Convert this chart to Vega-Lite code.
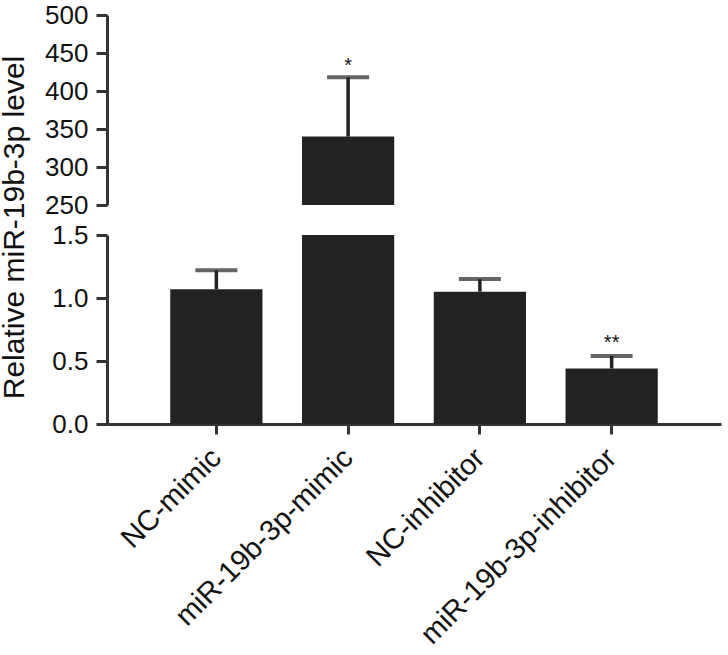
{
  "$schema": "https://vega.github.io/schema/vega-lite/v6.json",
  "background": "white",
  "padding": {"left": -2, "top": 2, "right": 5, "bottom": 0},
  "spacing": 30,
  "bounds": "flush",
  "config": {
    "view": {"stroke": null},
    "font": "Liberation Sans",
    "axis": {
      "domainColor": "#333333",
      "domainWidth": 3,
      "tickColor": "#333333",
      "tickWidth": 3,
      "tickSize": 11,
      "labelFont": "Liberation Sans",
      "labelFontSize": 26,
      "labelColor": "#111111",
      "labelPadding": 8,
      "labelOverlap": false,
      "labelLimit": 0,
      "grid": false,
      "titleFont": "Liberation Sans",
      "titleFontSize": 30,
      "titleFontWeight": "normal",
      "titleColor": "#111111"
    }
  },
  "datasets": {
    "bars": [
      {"group": "NC-mimic", "mean": 1.07, "upper": 1.22, "sig": ""},
      {"group": "miR-19b-3p-mimic", "mean": 340, "upper": 418, "sig": "*"},
      {"group": "NC-inhibitor", "mean": 1.05, "upper": 1.15, "sig": ""},
      {"group": "miR-19b-3p-inhibitor", "mean": 0.44, "upper": 0.54, "sig": "**"}
    ]
  },
  "vconcat": [
    {
      "width": 614,
      "height": 190,
      "data": {"name": "bars"},
      "encoding": {
        "x": {"field": "group", "type": "nominal", "sort": null, "axis": null,
              "scale": {"paddingInner": 0.3, "paddingOuter": 0.48}}
      },
      "layer": [
        {
          "mark": {"type": "bar", "clip": true, "color": "#222222"},
          "encoding": {
            "y": {"field": "mean", "type": "quantitative",
                  "scale": {"domain": [250, 500], "nice": false, "zero": false},
                  "axis": {"values": [250, 300, 350, 400, 450, 500], "title": null, "labelOverlap": false, "labelFlush": false}},
            "y2": {"datum": 0}
          }
        },
        {
          "mark": {"type": "rule", "clip": true, "strokeWidth": 3.5, "color": "#222222"},
          "encoding": {
            "y": {"field": "mean", "type": "quantitative",
                  "axis": {"values": [250, 300, 350, 400, 450, 500], "title": null, "labelOverlap": false, "labelFlush": false}},
            "y2": {"field": "upper"}
          }
        },
        {
          "mark": {"type": "tick", "clip": true, "thickness": 4, "size": 42, "color": "#222222"},
          "encoding": {"y": {"field": "upper", "type": "quantitative",
                  "axis": {"values": [250, 300, 350, 400, 450, 500], "title": null, "labelOverlap": false, "labelFlush": false}}}
        },
        {
          "transform": [{"filter": "datum.upper > 250"}],
          "mark": {"type": "text", "fontSize": 20, "baseline": "alphabetic", "dy": -5, "color": "#111111"},
          "encoding": {
            "y": {"field": "upper", "type": "quantitative",
                  "axis": {"values": [250, 300, 350, 400, 450, 500], "title": null, "labelOverlap": false, "labelFlush": false}},
            "text": {"field": "sig"}
          }
        }
      ]
    },
    {
      "width": 614,
      "height": 189,
      "data": {"name": "bars"},
      "encoding": {
        "x": {"field": "group", "type": "nominal", "sort": null,
              "scale": {"paddingInner": 0.3, "paddingOuter": 0.48},
              "axis": {"title": null, "labelAngle": -45, "labelAlign": "right", "labelBaseline": "middle", "labelPadding": 19, "labelFontSize": 29, "tickSize": 10}}
      },
      "layer": [
        {
          "mark": {"type": "bar", "clip": true, "color": "#222222"},
          "encoding": {
            "y": {"field": "mean", "type": "quantitative",
                  "scale": {"domain": [0, 1.5], "nice": false},
                  "axis": {"values": [0, 0.5, 1, 1.5], "format": ".1f", "labelOverlap": false, "labelFlush": false,
                           "title": "Relative miR-19b-3p level",
                           "titleX": -93, "titleY": -8, "titleBaseline": "middle", "titleAlign": "center", "titleAngle": 270}},
            "y2": {"datum": 0}
          }
        },
        {
          "mark": {"type": "rule", "clip": true, "strokeWidth": 3.5, "color": "#222222"},
          "encoding": {
            "y": {"field": "mean", "type": "quantitative"},
            "y2": {"field": "upper"}
          }
        },
        {
          "mark": {"type": "tick", "clip": true, "thickness": 4, "size": 42, "color": "#222222"},
          "encoding": {"y": {"field": "upper", "type": "quantitative"}}
        },
        {
          "transform": [{"filter": "datum.upper < 1.5"}],
          "mark": {"type": "text", "fontSize": 20, "baseline": "alphabetic", "dy": -7, "color": "#111111"},
          "encoding": {
            "y": {"field": "upper", "type": "quantitative"},
            "text": {"field": "sig"}
          }
        }
      ]
    }
  ]
}
